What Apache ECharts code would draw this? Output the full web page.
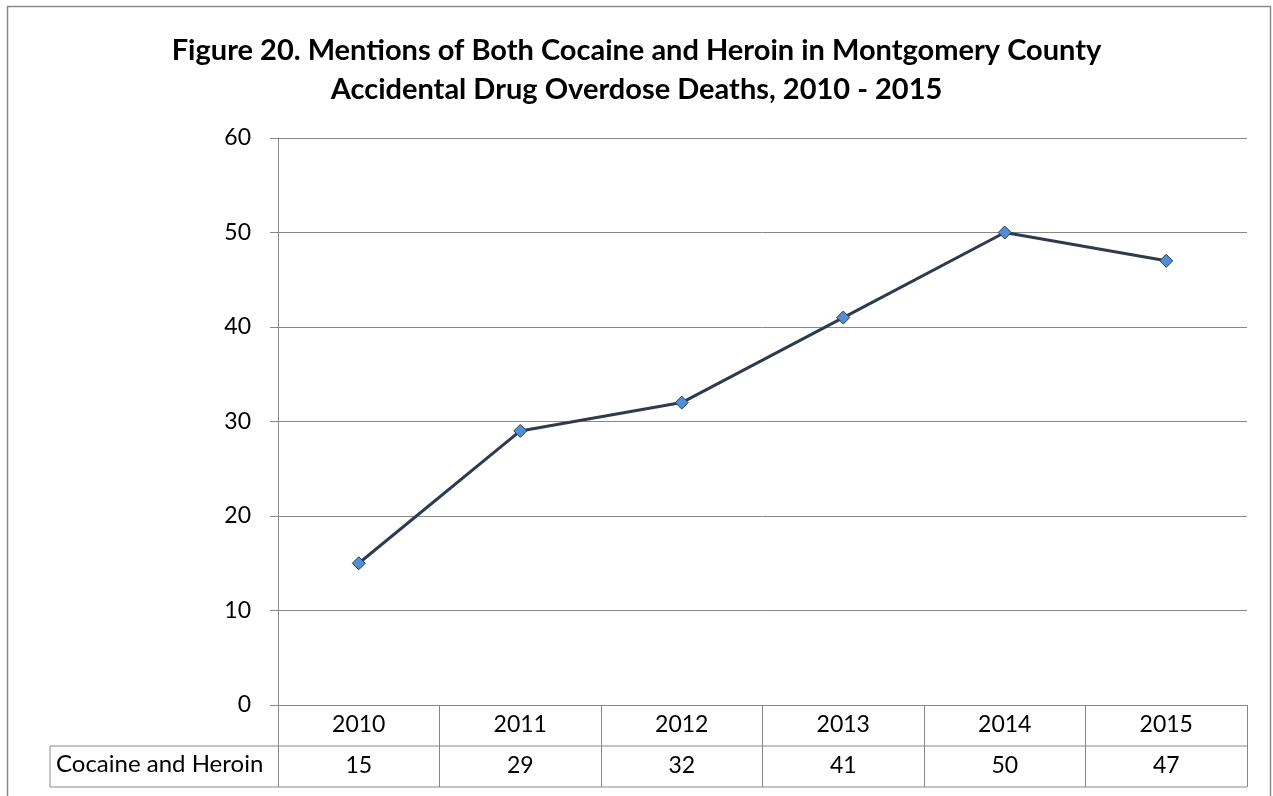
<!DOCTYPE html>
<html><head><meta charset="utf-8">
<script src="https://cdn.jsdelivr.net/npm/echarts@6/dist/echarts.min.js"></script>
<style>html,body{margin:0;padding:0;background:#fff}#c{width:1273px;height:796px}</style>
</head><body><div id="c"></div>
<script>
const titleLines = ['Figure 20. Mentions of Both Cocaine and Heroin in Montgomery County', 'Accidental Drug Overdose Deaths, 2010 - 2015'];
const categories = ['2010', '2011', '2012', '2013', '2014', '2015'];
const seriesName = 'Cocaine and Heroin';
const values = [15, 29, 32, 41, 50, 47];
const yTicks = { min: 0, max: 60, interval: 10 };

const FONT = 'Lato, "Open Sans", sans-serif';
const GRAY = '#888888';
const FS = 23;
const chart = echarts.init(document.getElementById('c'), null, { renderer: 'canvas' });
chart.setOption({
  backgroundColor: '#fff',
  animation: false,
  title: {
    text: titleLines.join('\n'),
    left: 'center', top: 26,
    textStyle: { fontFamily: FONT, fontWeight: 'bold', fontSize: 29, color: '#000', lineHeight: 39 }
  },
  grid: { left: 278, right: 26, top: 138, bottom: 91 },
  xAxis: [{
    type: 'category', data: categories, boundaryGap: true,
    axisLine: { lineStyle: { color: GRAY, width: 1 } },
    axisTick: { show: true, interval: 0, length: 82, lineStyle: { color: GRAY } },
    axisLabel: { interval: 0, margin: 8, fontFamily: FONT, fontSize: FS, color: '#000' }
  }, {
    type: 'category', data: values.map(String), position: 'bottom', offset: 41,
    axisLine: { show: false }, axisTick: { show: false },
    axisLabel: { interval: 0, margin: 8, fontFamily: FONT, fontSize: FS, color: '#000' }
  }],
  yAxis: {
    type: 'value', min: yTicks.min, max: yTicks.max, interval: yTicks.interval,
    axisLine: { show: true, lineStyle: { color: GRAY } },
    axisTick: { show: true, length: 8, lineStyle: { color: GRAY } },
    axisLabel: { margin: 27, fontFamily: FONT, fontSize: FS, color: '#000' },
    splitLine: { lineStyle: { color: GRAY } }
  },
  series: [{
    name: seriesName, type: 'line', data: values, xAxisIndex: 0,
    symbol: 'diamond', symbolSize: 13,
    lineStyle: { color: '#2E3B4E', width: 3 },
    itemStyle: { color: '#4F8FD3', borderColor: '#2E3B4E', borderWidth: 1 }
  }],
  graphic: [
    { type: 'rect', shape: { x: 7.5, y: 6.5, width: 1263, height: 800 }, style: { fill: 'none', stroke: '#8a8a8a', lineWidth: 1.5 }, silent: true },
    { type: 'line', shape: { x1: 50, y1: 746, x2: 1247, y2: 746 }, style: { stroke: GRAY, lineWidth: 1 } },
    { type: 'line', shape: { x1: 50, y1: 787, x2: 1247, y2: 787 }, style: { stroke: GRAY, lineWidth: 1 } },
    { type: 'line', shape: { x1: 50, y1: 746, x2: 50, y2: 787 }, style: { stroke: GRAY, lineWidth: 1 } },
    { type: 'text', left: 56, top: 752, style: { text: seriesName, font: '24px ' + FONT, fill: '#000' } }
  ]
});
</script></body></html>
